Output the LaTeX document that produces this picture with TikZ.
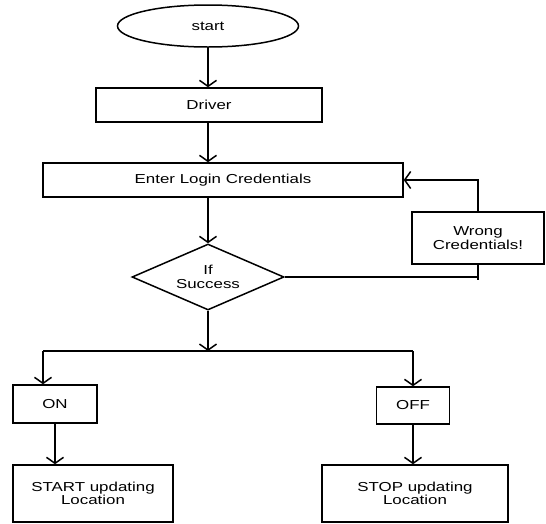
\documentclass[tikz,border=0pt]{standalone}
\usepackage{fontspec}
\setmainfont{Liberation Sans}[FakeStretch=1.3]
\usetikzlibrary{shapes.geometric, arrows.meta}
\tikzset{
flowbox/.style={draw, rectangle, line width=1.5pt, inner sep=0pt, align=center,
  font=\fontsize{13}{13.5}\selectfont},
flowstart/.style={draw, ellipse, line width=1.5pt, inner sep=0pt,
  minimum width=181pt, minimum height=42pt, font=\fontsize{13}{13.5}\selectfont},
flowtest/.style={draw, diamond, aspect=2.3, line width=1.5pt, inner sep=0pt,
  minimum width=152pt, minimum height=66pt, align=center,
  font=\fontsize{13}{13.5}\selectfont},
flowline/.style={line width=1.5pt},
flowarrow/.style={line width=1.5pt, -{Straight Barb[length=6pt,width=17pt]}}
}

\begin{document}
\begin{tikzpicture}[x=1pt, y=-1pt]
\useasboundingbox (0,0) rectangle (546,523);
\node[flowstart] (begin) at (208,26) {start};
\node[flowbox, minimum width=226pt, minimum height=34pt] (driver) at (209,105) {Driver};
\node[flowbox, minimum width=360pt, minimum height=34pt] (enter) at (223,180) {Enter Login Credentials};
\node[flowbox, minimum width=132pt, minimum height=52pt] (wrong) at (478,238) {Wrong\\Credentials!};
\node[flowtest] (test) at (208,277) {If\\Success};
\coordinate (split) at (208,351);
\coordinate (onin) at (43,351);
\coordinate (offin) at (413,351);
\node[flowbox, minimum width=84pt, minimum height=38pt] (on) at (55,404) {ON};
\node[flowbox, minimum width=73pt, minimum height=37pt] (off) at (413,405.5) {OFF};
\node[flowbox, minimum width=160pt, minimum height=57pt] (startupd) at (93,493.5) {START updating\\Location};
\node[flowbox, minimum width=186pt, minimum height=57pt] (stopupd) at (415,493.5) {STOP updating\\Location};

\draw[flowarrow] (begin.south) -- (begin.south |- driver.north);
\draw[flowarrow] (begin.south |- driver.south) -- (begin.south |- enter.north);
\draw[flowarrow] (begin.south |- enter.south) -- (test.north);
\draw[flowarrow] (wrong.north) |- (enter.east);
\draw[flowline] (test.east) -- (test.east -| wrong.south);
\draw[flowline] (wrong.south) -- ([yshift=-3pt]test.east -| wrong.south);
\draw[flowarrow] (test.south) -- (split);
\draw[flowline] (onin) -- (offin);
\draw[flowarrow] (onin) -- (onin |- on.north);
\draw[flowarrow] (offin) -- (off.north);
\draw[flowarrow] (on.south) -- (on.south |- startupd.north);
\draw[flowarrow] (off.south) -- (off.south |- stopupd.north);
\end{tikzpicture}
\end{document}
